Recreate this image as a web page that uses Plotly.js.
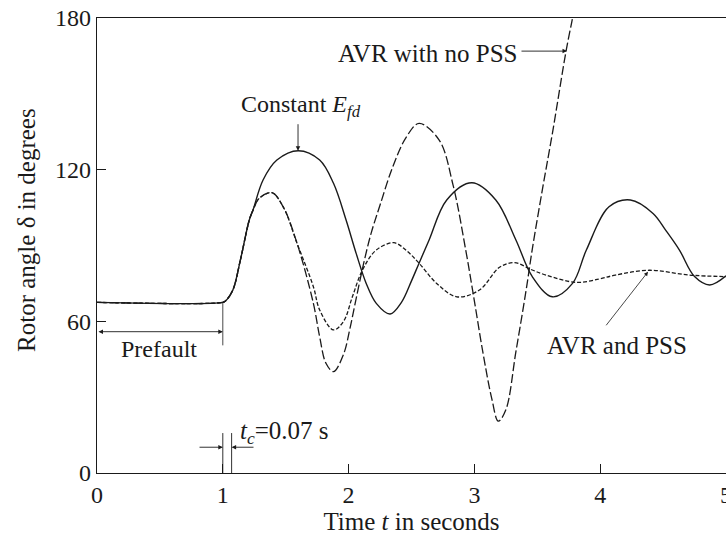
<!DOCTYPE html>
<html>
<head>
<meta charset="utf-8">
<script src="https://cdn.plot.ly/plotly-3.0.1.min.js"></script>
<style>html,body{margin:0;padding:0;background:#fff;}#chart{width:726px;height:535px;}</style>
</head>
<body>
<div id="chart"></div>
<script>
// Constant Efd (solid)
const tConst = [0, 1.0, 1.02, 1.08, 1.14, 1.21, 1.24, 1.32, 1.43, 1.6, 1.77, 1.88, 1.98, 2.06, 2.14, 2.22, 2.33, 2.42, 2.5, 2.56, 2.64, 2.78, 2.98, 3.17, 3.33, 3.46, 3.62, 3.78, 3.89, 4.07, 4.24, 4.42, 4.52, 4.63, 4.75, 4.87, 5.0];
const vConst = [67.5, 67.5, 68, 72.4, 84.3, 100, 104, 115.9, 123.8, 127.5, 123.8, 114.6, 100.1, 86.9, 75, 67.1, 62.9, 67.5, 76, 83, 92.2, 108, 114.8, 108, 92.2, 77.7, 69.7, 75, 88.2, 105.3, 108, 102.7, 96.1, 88.2, 77.7, 74.4, 78];

// AVR with no PSS (long dashes)
const tNoPss = [0, 1.0, 1.02, 1.08, 1.14, 1.21, 1.24, 1.29, 1.39, 1.48, 1.59, 1.72, 1.77, 1.82, 1.88, 1.96, 2.01, 2.06, 2.12, 2.18, 2.25, 2.35, 2.46, 2.56, 2.72, 2.83, 2.93, 3.0, 3.07, 3.14, 3.19, 3.25, 3.33, 3.41, 3.46, 3.54, 3.62, 3.73, 3.78, 3.8];
const vNoPss = [67.5, 67.5, 68, 72.4, 84.3, 100, 104, 108.7, 110.9, 105.3, 90.9, 67.1, 53.9, 43.4, 40.1, 47, 57, 69, 83, 95, 106, 121, 133, 138.3, 131.7, 114, 88.5, 68, 47, 29, 20.5, 25, 48, 72, 88.5, 112, 134.4, 167.3, 180, 186];

// AVR and PSS (short dashes)
const tPss = [0, 1.0, 1.02, 1.08, 1.14, 1.21, 1.24, 1.29, 1.39, 1.48, 1.59, 1.72, 1.77, 1.88, 1.96, 2.03, 2.11, 2.22, 2.36, 2.46, 2.56, 2.7, 2.86, 3.04, 3.2, 3.32, 3.45, 3.57, 3.81, 3.99, 4.12, 4.39, 4.71, 5.0];
const vPss = [67.5, 67.5, 68, 72.4, 84.3, 100, 104, 108.7, 110.9, 105.3, 90.9, 73.7, 64.5, 56.6, 60, 69.7, 80.3, 88.2, 91.1, 88, 83, 75, 69.7, 72.4, 81.4, 83.2, 80.5, 78.3, 75.4, 76.7, 78.3, 80.2, 78.3, 77.7];

const xTicks = [0, 1, 2, 3, 4, 5];
const yTicks = [0, 60, 120, 180];

const ink = '#1a1a1a';
const serif = 'Liberation Serif';

const traces = [
  {x: tPss, y: vPss, mode: 'lines', name: 'AVR and PSS',
   line: {color: ink, width: 1.3, dash: '4px,2px', shape: 'spline', smoothing: 1}},
  {x: tNoPss, y: vNoPss, mode: 'lines', name: 'AVR with no PSS',
   line: {color: ink, width: 1.3, dash: '9px,3px', shape: 'spline', smoothing: 1}},
  {x: tConst, y: vConst, mode: 'lines', name: 'Constant Efd',
   line: {color: ink, width: 1.4, shape: 'spline', smoothing: 1}}
];

const annFont = {family: serif, size: 24, color: ink};
const annFontL = {family: serif, size: 25, color: ink};

const layout = {
  width: 726, height: 535,
  margin: {l: 97, r: 0, t: 18, b: 62},
  paper_bgcolor: '#fff', plot_bgcolor: '#fff',
  showlegend: false,
  font: {family: serif, color: ink, size: 24},
  xaxis: {
    range: [0, 5], tickvals: xTicks, ticktext: xTicks.map(String),
    ticks: 'inside', ticklen: 9, tickwidth: 1.2, tickcolor: ink,
    showline: true, linecolor: ink, linewidth: 1.3, mirror: true,
    showgrid: false, zeroline: false, ticklabeloverflow: 'allow',
    tickfont: {family: serif, size: 24, color: ink},
    title: {text: 'Time <i>t</i> in seconds', font: {family: serif, size: 25, color: ink}, standoff: 6}
  },
  yaxis: {
    range: [0, 180], tickvals: yTicks, ticktext: yTicks.map(String),
    ticks: 'inside', ticklen: 9, tickwidth: 1.2, tickcolor: ink,
    showline: true, linecolor: ink, linewidth: 1.3,
    showgrid: false, zeroline: false, ticklabeloverflow: 'allow',
    tickfont: {family: serif, size: 24, color: ink}
  },
  shapes: [
    {type: 'line', xref: 'x', yref: 'y', x0: 1, x1: 1, y0: 50.5, y1: 67.5, line: {color: ink, width: 0.8}},
    {type: 'line', xref: 'x', yref: 'y', x0: 1, x1: 1, y0: 0, y1: 15.8, line: {color: ink, width: 0.9}},
    {type: 'line', xref: 'x', yref: 'y', x0: 1.07, x1: 1.07, y0: 0, y1: 15.8, line: {color: ink, width: 0.9}}
  ],
  annotations: [
    // y-axis title
    {x: -0.113, y: 0.534, xref: 'paper', yref: 'paper', text: 'Rotor angle δ in degrees', textangle: -90, showarrow: false, font: {family: serif, size: 25, color: ink}, xanchor: 'center', yanchor: 'middle'},
    // Constant Efd
    {x: 1.625, y: 145, xref: 'x', yref: 'y', text: 'Constant <i>E</i><sub><i>fd</i></sub>', showarrow: false, font: annFont, xanchor: 'center', yanchor: 'middle'},
    {x: 1.598, y: 127.5, xref: 'x', yref: 'y', text: '', showarrow: true, ax: 0, ay: -28, arrowhead: 2, arrowsize: 1, arrowwidth: 0.9, arrowcolor: ink},
    // AVR with no PSS
    {x: 2.627, y: 166.1, xref: 'x', yref: 'y', text: 'AVR with no PSS', showarrow: false, font: annFontL, xanchor: 'center', yanchor: 'middle'},
    {x: 3.736, y: 166.9, xref: 'x', yref: 'y', text: '', showarrow: true, ax: -47, ay: 0, arrowhead: 2, arrowsize: 1, arrowwidth: 0.9, arrowcolor: ink},
    // AVR and PSS
    {x: 4.134, y: 50.6, xref: 'x', yref: 'y', text: 'AVR and PSS', showarrow: false, font: annFontL, xanchor: 'center', yanchor: 'middle'},
    {x: 4.38, y: 79.6, xref: 'x', yref: 'y', text: '', showarrow: true, ax: -43, ay: 55, arrowhead: 2, arrowsize: 1, arrowwidth: 0.8, arrowcolor: ink},
    // Prefault
    {x: 1, y: 55.9, xref: 'x', yref: 'y', axref: 'x', ayref: 'y', ax: 0, ay: 55.9, text: '', showarrow: true, arrowside: 'end+start', arrowhead: 2, arrowsize: 1, arrowwidth: 0.9, arrowcolor: ink},
    {x: 0.49, y: 49, xref: 'x', yref: 'y', text: 'Prefault', showarrow: false, font: annFont, xanchor: 'center', yanchor: 'middle'},
    // clearing time
    {x: 1.0, y: 10.2, xref: 'x', yref: 'y', axref: 'x', ayref: 'y', ax: 0.803, ay: 10.2, text: '', showarrow: true, arrowhead: 2, arrowsize: 1, arrowwidth: 0.9, arrowcolor: ink},
    {x: 1.07, y: 10.2, xref: 'x', yref: 'y', axref: 'x', ayref: 'y', ax: 1.256, ay: 10.2, text: '', showarrow: true, arrowhead: 2, arrowsize: 1, arrowwidth: 0.9, arrowcolor: ink},
    {x: 1.494, y: 16, xref: 'x', yref: 'y', text: '<i>t</i><sub><i>c</i></sub>=0.07 s', showarrow: false, font: {family: serif, size: 25, color: ink}, xanchor: 'center', yanchor: 'middle'}
  ]
};

Plotly.newPlot('chart', traces, layout, {displayModeBar: false, staticPlot: true});
</script>
</body>
</html>
